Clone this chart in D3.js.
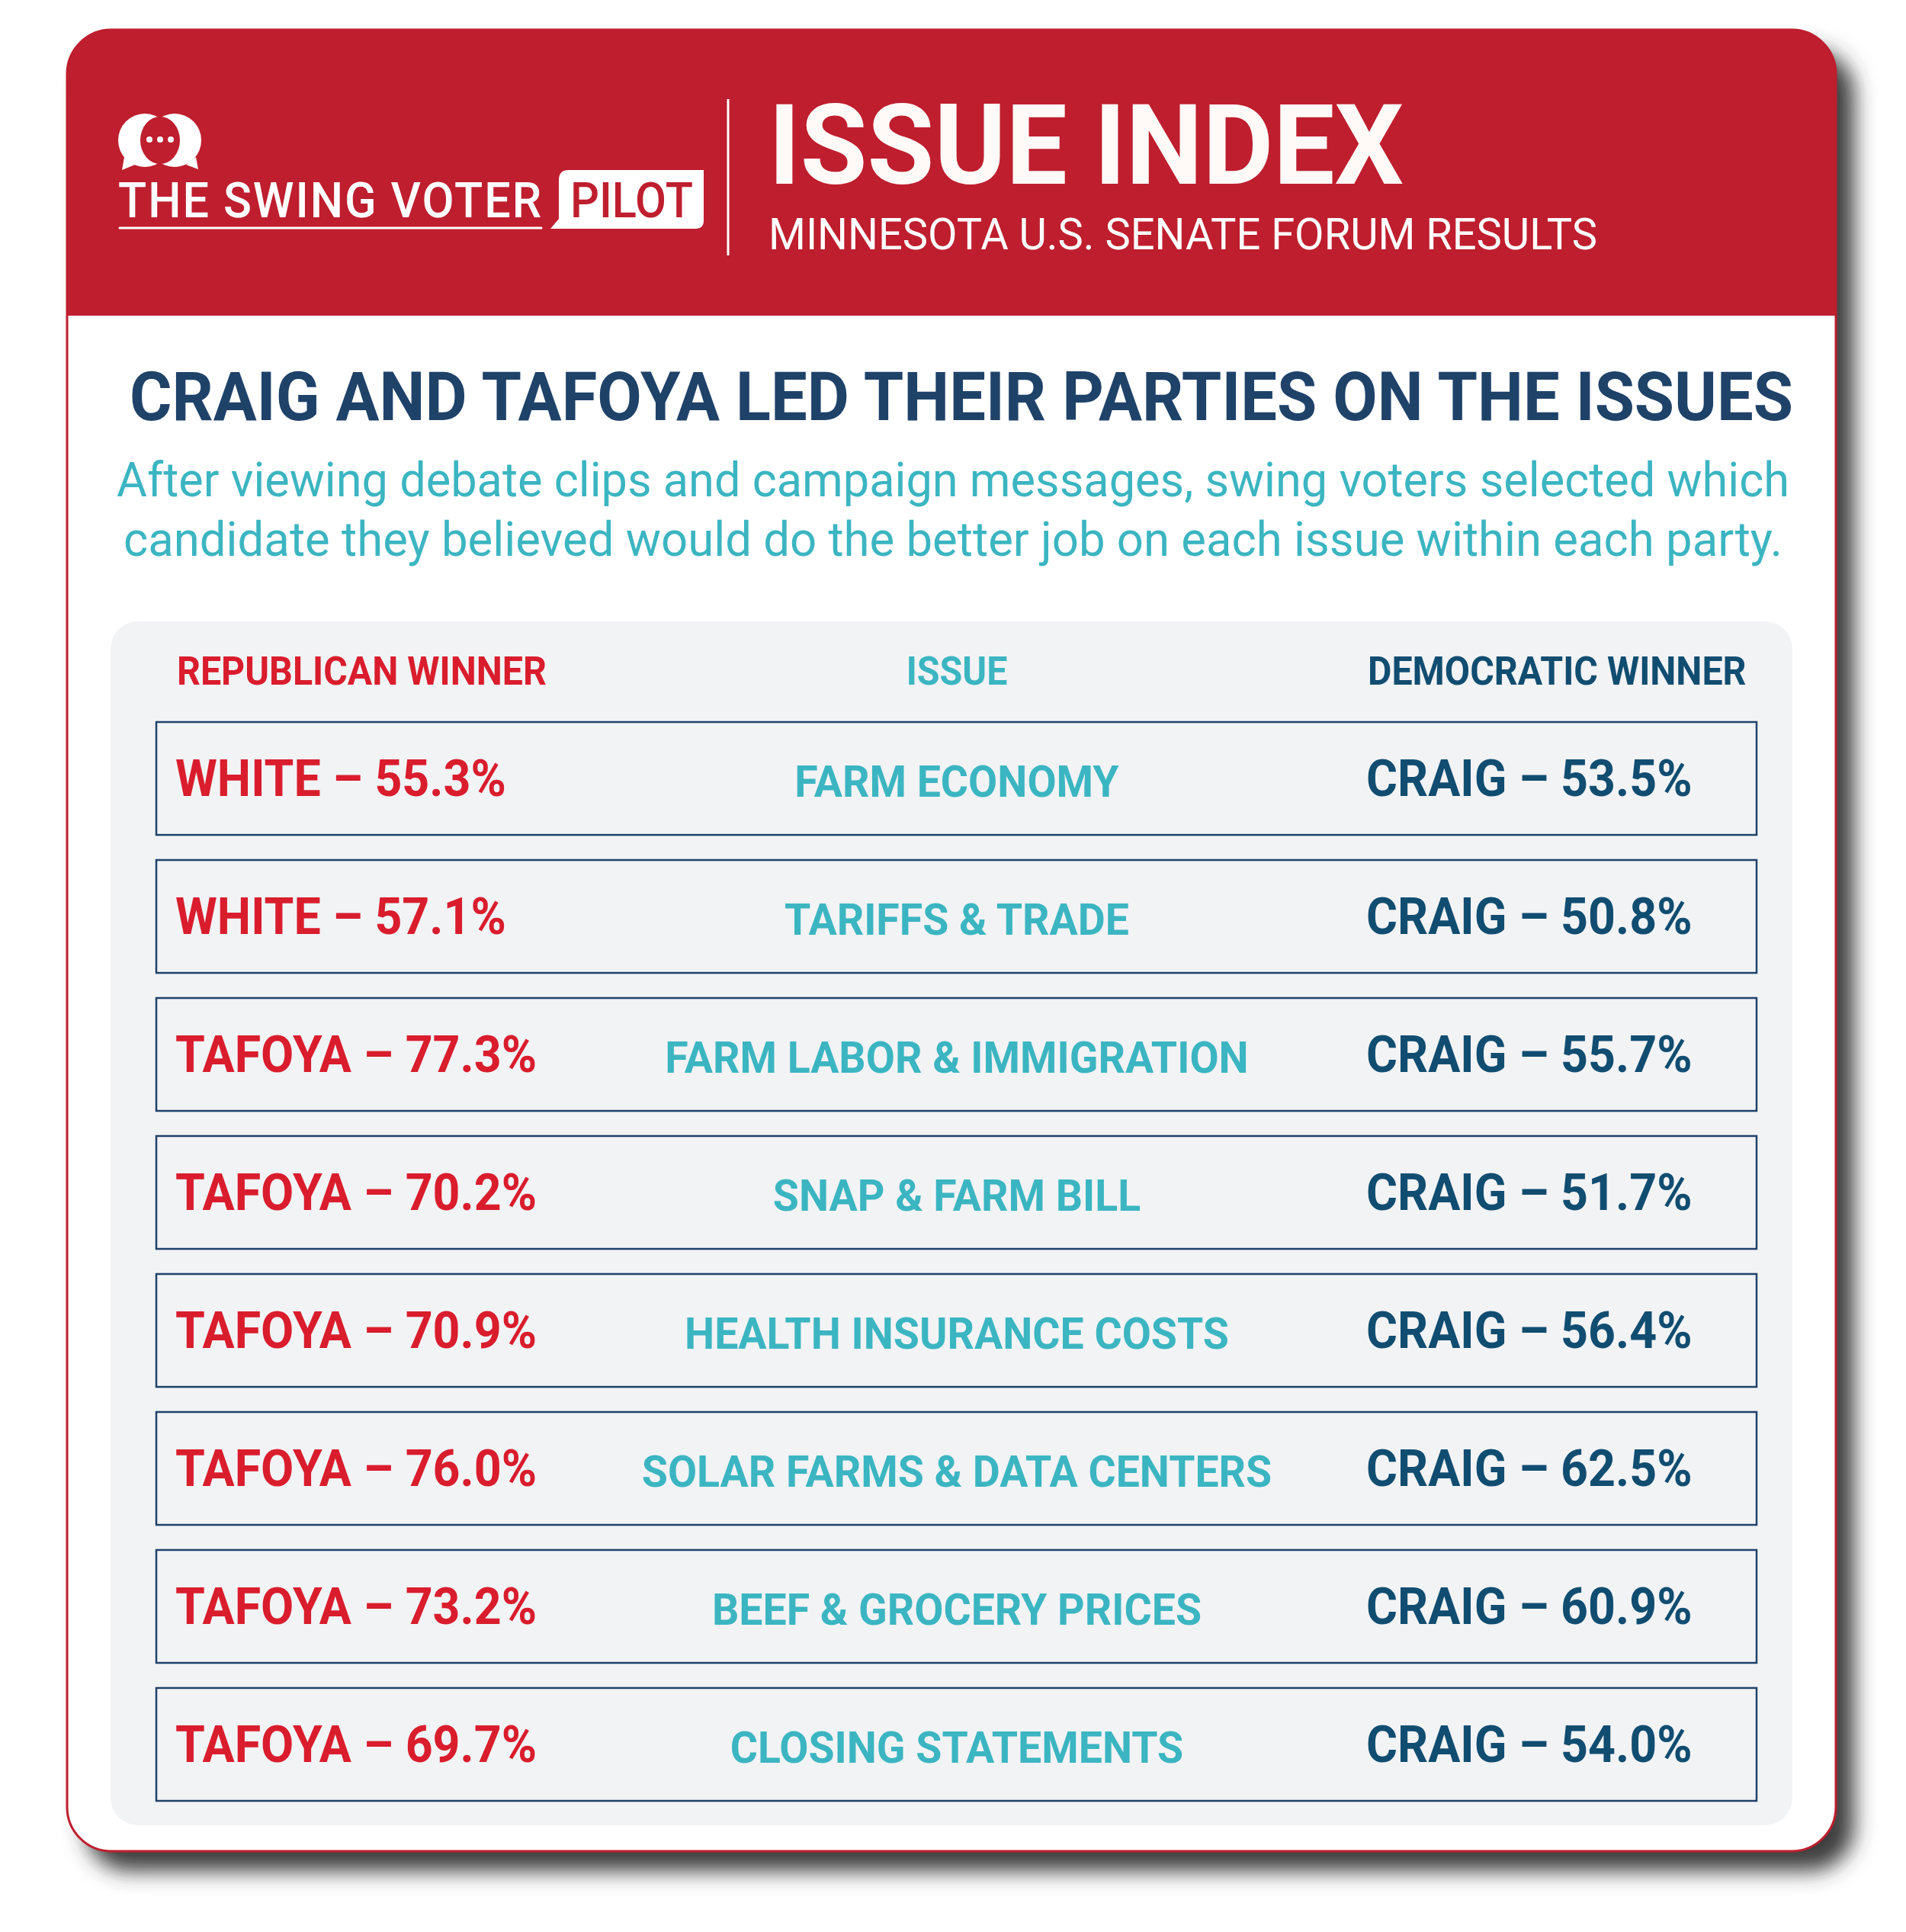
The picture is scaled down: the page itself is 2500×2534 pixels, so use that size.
<!DOCTYPE html>
<html>
<head>
<meta charset="utf-8">
<script src="https://cdn.jsdelivr.net/npm/d3@7"></script>
<style>
  html, body { margin: 0; padding: 0; background: #fff; }
  svg { display: block; }
  text { font-family: Roboto, "DejaVu Sans", sans-serif; }
</style>
</head>
<body>
<svg id="chart" width="2500" height="2534"></svg>
<script>
// data
var issues = ['FARM ECONOMY', 'TARIFFS & TRADE', 'FARM LABOR & IMMIGRATION', 'SNAP & FARM BILL',
  'HEALTH INSURANCE COSTS', 'SOLAR FARMS & DATA CENTERS', 'BEEF & GROCERY PRICES', 'CLOSING STATEMENTS'];
var repWinner = ['WHITE', 'WHITE', 'TAFOYA', 'TAFOYA', 'TAFOYA', 'TAFOYA', 'TAFOYA', 'TAFOYA'];
var repShare = [55.3, 57.1, 77.3, 70.2, 70.9, 76.0, 73.2, 69.7];
var demWinner = ['CRAIG', 'CRAIG', 'CRAIG', 'CRAIG', 'CRAIG', 'CRAIG', 'CRAIG', 'CRAIG'];
var demShare = [53.5, 50.8, 55.7, 51.7, 56.4, 62.5, 60.9, 54.0];
var columnHeads = ['REPUBLICAN WINNER', 'ISSUE', 'DEMOCRATIC WINNER'];
var subtitleLines = ['After viewing debate clips and campaign messages, swing voters selected which',
  'candidate they believed would do the better job on each issue within each party.'];

var RED_BG = '#be1e2e', REP = '#d91d2d', TEAL = '#3bb5c1', DEM = '#114d71', NAVY = '#1f4269';

var svg = d3.select('#chart');
var fmt = d3.format('.1f');

function fit(sel, w) {
  sel.attr('textLength', w).attr('lengthAdjust', 'spacingAndGlyphs');
}
function squeeze(sel, k) {
  sel.each(function() {
    var w = this.getComputedTextLength();
    d3.select(this).attr('textLength', w * k).attr('lengthAdjust', 'spacingAndGlyphs');
  });
}
function label(d, i, names, shares) {
  return names[i] + ' \u2013 ' + fmt(shares[i]) + '%';
}

var defs = svg.append('defs');
var f = defs.append('filter').attr('id', 'shadow')
  .attr('x', '-5%').attr('y', '-5%').attr('width', '115%').attr('height', '115%');
f.append('feDropShadow').attr('dx', 24).attr('dy', 26).attr('stdDeviation', 14)
  .attr('flood-color', '#333').attr('flood-opacity', 0.95);
defs.append('clipPath').attr('id', 'cardClip')
  .append('rect').attr('x', 88).attr('y', 39).attr('width', 2320).attr('height', 2389).attr('rx', 58);

// card
var card = {x: 88, y: 39, w: 2320, h: 2389};
svg.append('rect').attr('x', card.x).attr('y', card.y).attr('width', card.w).attr('height', card.h)
  .attr('rx', 58).attr('fill', '#fff').attr('filter', 'url(#shadow)');
svg.append('g').attr('clip-path', 'url(#cardClip)')
  .append('rect').attr('x', card.x).attr('y', card.y).attr('width', card.w).attr('height', 375)
  .attr('fill', RED_BG);
svg.append('rect').attr('x', card.x).attr('y', card.y).attr('width', card.w).attr('height', card.h)
  .attr('rx', 58).attr('fill', 'none').attr('stroke', RED_BG).attr('stroke-width', 3);

// logo
var logo = svg.append('g').attr('class', 'logo');
logo.append('ellipse').attr('cx', 190).attr('cy', 184).attr('rx', 35).attr('ry', 35).attr('fill', '#fff');
logo.append('ellipse').attr('cx', 229).attr('cy', 184).attr('rx', 35).attr('ry', 35).attr('fill', '#fff');
logo.append('path').attr('d', 'M163,206 L160,223 L177,216 Z').attr('fill', '#fff');
logo.append('path').attr('d', 'M257,206 L260,222 L244,216 Z').attr('fill', '#fff');
logo.append('ellipse').attr('cx', 210).attr('cy', 184).attr('rx', 26).attr('ry', 31).attr('fill', RED_BG);
logo.selectAll('circle.dot').data([196, 210, 224]).enter().append('circle')
  .attr('class', 'dot').attr('cx', function(d) { return d; }).attr('cy', 183).attr('r', 4)
  .attr('fill', '#fff');

logo.append('text').attr('x', 155).attr('y', 285).attr('fill', '#fff')
  .attr('font-size', 64).attr('font-weight', 500).attr('letter-spacing', 2)
  .text('THE SWING VOTER').call(fit, 557);
logo.append('line').attr('x1', 157).attr('x2', 710).attr('y1', 299).attr('y2', 299)
  .attr('stroke', '#fff').attr('stroke-width', 3).attr('stroke-linecap', 'round');
logo.append('path')
  .attr('d', 'M733,236 Q733,223 746,223 L923,223 L923,289 Q923,300 912,300 L722,300 L733,287 Z')
  .attr('fill', '#fff');
logo.append('text').attr('x', 748).attr('y', 285).attr('fill', RED_BG)
  .attr('font-size', 64).attr('font-weight', 500)
  .text('PILOT').call(fit, 161);

svg.append('line').attr('x1', 955).attr('x2', 955).attr('y1', 130).attr('y2', 335)
  .attr('stroke', '#fff').attr('stroke-width', 3);

svg.append('text').attr('x', 1008).attr('y', 241).attr('fill', '#fffaf7')
  .attr('font-size', 146).attr('font-weight', 700)
  .text('ISSUE INDEX').call(fit, 833);
svg.append('text').attr('x', 1008).attr('y', 327).attr('fill', '#fff')
  .attr('font-size', 58).attr('font-weight', 400)
  .text('MINNESOTA U.S. SENATE FORUM RESULTS').call(fit, 1087);

// title & subtitle
svg.append('text').attr('x', 1261).attr('y', 551).attr('text-anchor', 'middle').attr('fill', NAVY)
  .attr('font-size', 89).attr('font-weight', 700)
  .text('CRAIG AND TAFOYA LED THEIR PARTIES ON THE ISSUES').call(fit, 2182);
var subW = [2194, 2176];
svg.selectAll('text.sub').data(subtitleLines).enter().append('text')
  .attr('class', 'sub')
  .attr('x', 1250).attr('y', function(d, i) { return 651 + i * 78; })
  .attr('text-anchor', 'middle').attr('fill', TEAL)
  .attr('font-size', 63).attr('font-weight', 400)
  .text(function(d) { return d; })
  .each(function(d, i) { d3.select(this).call(fit, subW[i]); });

// panel
svg.append('rect').attr('x', 145).attr('y', 815).attr('width', 2206).attr('height', 1579)
  .attr('rx', 36).attr('fill', '#f2f3f5');

var colX = [232, 1255, 1794];
var colAnchor = ['start', 'middle', 'start'];
var colColor = [REP, TEAL, DEM];
svg.selectAll('text.head').data(columnHeads).enter().append('text')
  .attr('class', 'head')
  .attr('x', function(d, i) { return colX[i]; }).attr('y', 898)
  .attr('text-anchor', function(d, i) { return colAnchor[i]; })
  .attr('fill', function(d, i) { return colColor[i]; })
  .attr('font-size', 51).attr('font-weight', 700)
  .text(function(d) { return d; })
  .call(squeeze, 0.947);

// rows
var y = d3.scaleBand().domain(issues).range([947, 2362]).paddingInner(0.182).paddingOuter(0);
var rows = svg.selectAll('g.row').data(issues).enter().append('g')
  .attr('class', 'row')
  .attr('transform', function(d) { return 'translate(0,' + y(d) + ')'; });

rows.append('rect').attr('x', 205).attr('y', 0).attr('width', 2099).attr('height', y.bandwidth())
  .attr('fill', 'none').attr('stroke', NAVY).attr('stroke-width', 2.5);

rows.append('text').attr('x', 230).attr('y', 97).attr('fill', REP)
  .attr('font-size', 66).attr('font-weight', 700)
  .text(function(d, i) { return label(d, i, repWinner, repShare); })
  .call(squeeze, 0.95);

rows.append('text').attr('x', 1255).attr('y', 98).attr('text-anchor', 'middle').attr('fill', TEAL)
  .attr('font-size', 58).attr('font-weight', 700)
  .text(function(d) { return d; })
  .call(squeeze, 0.955);

rows.append('text').attr('x', 1792).attr('y', 97).attr('fill', DEM)
  .attr('font-size', 66).attr('font-weight', 700)
  .text(function(d, i) { return label(d, i, demWinner, demShare); })
  .call(squeeze, 0.95);
</script>
</body>
</html>
